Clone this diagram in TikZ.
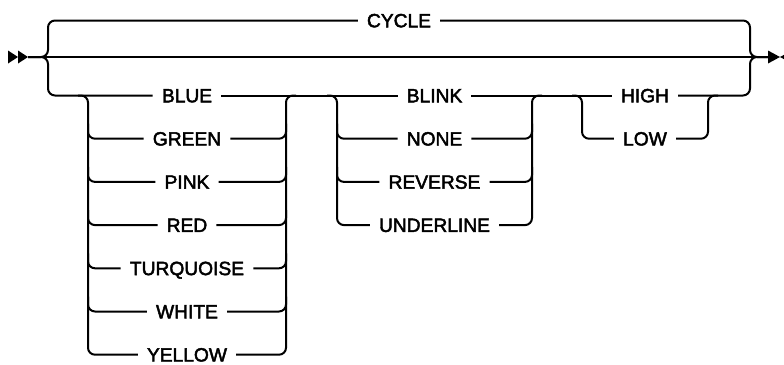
\documentclass[tikz,border=0pt]{standalone}
\usepackage{fontspec}
\setmainfont{Liberation Sans}
\newfontfamily\railfont{Liberation Sans}[FakeBold=2.4]
\begin{document}
\begin{tikzpicture}[x=1pt,y=-1pt,
  rail/.style={line width=2pt, rounded corners=7pt},
  lbl/.style={inner xsep=9pt, inner ysep=0pt, text height=13.6pt, text depth=0pt,
    font=\railfont\fontsize{19.2}{22}\selectfont},
  tip/.style={fill=black, sharp corners}]
\useasboundingbox (0,0) rectangle (784,364);
% coordinates
\coordinate (in) at (28,57);
\coordinate (out) at (768,57);
\coordinate (fl) at (48,57);
\coordinate (fr) at (750,57);
\coordinate (flT) at (48,20.5);
\coordinate (flB) at (48,95.5);
\coordinate (frT) at (750,20.5);
\coordinate (frB) at (750,95.5);
\foreach \i/\y in {1/95.5,2/138.7,3/181.9,4/225.1,5/268.3,6/311.5,7/354.7}{
  \coordinate (cL\i) at (88,\y);
  \coordinate (cR\i) at (286,\y);
  \coordinate (sL\i) at (337,\y);
  \coordinate (sR\i) at (532,\y);
  \coordinate (tL\i) at (582,\y);
  \coordinate (tR\i) at (708,\y);
}
% labels
\node[lbl] (cycle) at (399,20.5) {CYCLE};
\node[lbl] (blue) at (cL1-|187,0) {BLUE};
\node[lbl] (green) at (cL2-|187,0) {GREEN};
\node[lbl] (pink) at (cL3-|187,0) {PINK};
\node[lbl] (red) at (cL4-|187,0) {RED};
\node[lbl] (turq) at (cL5-|187,0) {TURQUOISE};
\node[lbl] (white) at (cL6-|187,0) {WHITE};
\node[lbl] (yellow) at (cL7-|187,0) {YELLOW};
\node[lbl] (blink) at (cL1-|434.5,0) {BLINK};
\node[lbl] (none) at (cL2-|434.5,0) {NONE};
\node[lbl] (reverse) at (cL3-|434.5,0) {REVERSE};
\node[lbl] (underline) at (cL4-|434.5,0) {UNDERLINE};
\node[lbl] (high) at (cL1-|645,0) {HIGH};
\node[lbl] (low) at (cL2-|645,0) {LOW};
% start and end markers
\fill[tip] (8,50.5) -- (18,57) -- (8,63.5) -- cycle;
\fill[tip] (18,50.5) -- (28,57) -- (18,63.5) -- cycle;
\fill[tip] (768,50.5) -- (780,57) -- (768,63.5) -- cycle;
\fill[tip] (780,57) -- (792,50.5) -- (792,63.5) -- cycle;
% main rails
\draw[rail] (in) -- (out);
\draw[rail] (in) -- (fl) -- (flT) -- (cycle.west);
\draw[rail] (cycle.east) -- (frT) -- (fr) -- (out);
\draw[rail] (in) -- (fl) -- (flB) -- (blue.west);
\draw[rail] (blue.east) -- (blink.west);
\draw[rail] (blink.east) -- (high.west);
\draw[rail] (high.east) -- (frB) -- (fr) -- (out);
% colour group
\draw[rail] ([xshift=-10pt]cL1) -- (cL1) -- (cL7) -- (yellow.west);
\draw[rail] (yellow.east) -- (cR7) -- (cR1) -- ([xshift=10pt]cR1);
\foreach \i/\n in {2/green,3/pink,4/red,5/turq,6/white}{
  \draw[rail] ([yshift=15pt]cL\i) -- (cL\i) -- (\n.west);
  \draw[rail] (\n.east) -- (cR\i) -- ([yshift=15pt]cR\i);
}
% highlight group
\draw[rail] ([xshift=-10pt]sL1) -- (sL1) -- (sL4) -- (underline.west);
\draw[rail] (underline.east) -- (sR4) -- (sR1) -- ([xshift=10pt]sR1);
\foreach \i/\n in {2/none,3/reverse}{
  \draw[rail] ([yshift=15pt]sL\i) -- (sL\i) -- (\n.west);
  \draw[rail] (\n.east) -- (sR\i) -- ([yshift=15pt]sR\i);
}
% intensity group
\draw[rail] ([xshift=-10pt]tL1) -- (tL1) -- (tL2) -- (low.west);
\draw[rail] (low.east) -- (tR2) -- (tR1) -- ([xshift=10pt]tR1);
\end{tikzpicture}
\end{document}
